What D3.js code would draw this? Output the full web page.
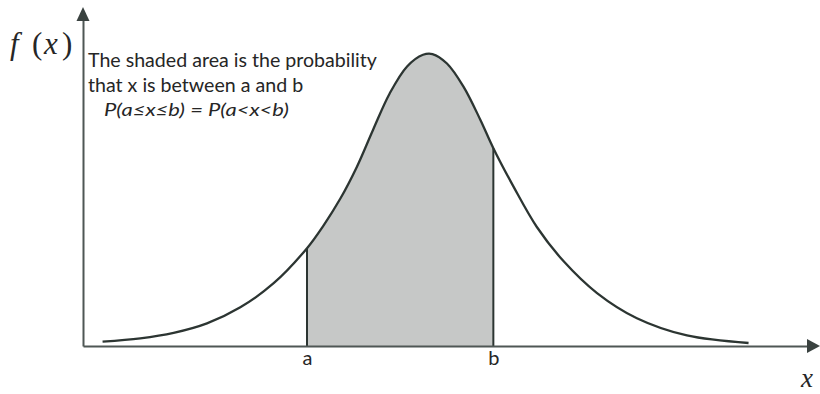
<!DOCTYPE html>
<html>
<head>
<meta charset="utf-8">
<script src="https://cdn.jsdelivr.net/npm/d3@7/dist/d3.min.js"></script>
<style>
  html, body { margin: 0; padding: 0; background: #ffffff; }
  svg { display: block; }
</style>
</head>
<body>
<svg id="chart" width="820" height="394"></svg>
<script>
// Density curve sampled along x (arbitrary units) with its height f(x)
const curveX = [0.27, 0.79, 1.25, 1.71, 2.17, 2.63, 3.09, 3.31, 3.55, 3.78, 4.00, 4.23, 4.47, 4.69, 4.82,
                5.02, 5.25, 5.48, 5.66, 5.94, 6.26, 6.63, 7.09, 7.64, 8.33, 9.18];
const curveY = [0.006, 0.0105, 0.018, 0.031, 0.053, 0.086, 0.134, 0.164, 0.202, 0.246, 0.296, 0.346, 0.383, 0.399, 0.400,
                0.387, 0.355, 0.310, 0.271, 0.218, 0.163, 0.116, 0.0725, 0.038, 0.0144, 0.0041];

// Interval bounds on the x axis
const boundX = [3.09, 5.66];
const tickLabels = ["a", "b"];

// Text drawn on the chart
const noteLines = ["The shaded area is the probability", "that x is between a and b"];
const formula = "P(a\u2264x\u2264b) = P(a<x<b)";

const points = curveX.map((x, i) => ({ x, y: curveY[i] }));
const fAt = v => points[curveX.indexOf(v)].y;

const svg = d3.select("#chart");
const ink = "#2c3532";
const axisInk = "#4f5755";
const textInk = "#262626";

const x = d3.scaleLinear().domain([0, 10]).range([83, 808]);
const y = d3.scaleLinear().domain([0, 0.4466]).range([346, 20]);

// Shaded region between a and b (area under the full curve, clipped)
svg.append("clipPath").attr("id", "ab")
  .append("rect")
  .attr("x", x(boundX[0])).attr("y", 0)
  .attr("width", x(boundX[1]) - x(boundX[0])).attr("height", y(0));

const curve = d3.curveCatmullRom.alpha(0.5);

svg.append("path")
  .datum(points)
  .attr("clip-path", "url(#ab)")
  .attr("fill", "#c6c8c7")
  .attr("d", d3.area().x(d => x(d.x)).y0(y(0)).y1(d => y(d.y)).curve(curve));

// Vertical bounds at a and b
svg.selectAll("line.bound")
  .data(boundX)
  .join("line")
  .attr("class", "bound")
  .attr("x1", d => x(d)).attr("x2", d => x(d))
  .attr("y1", y(0)).attr("y2", d => y(fAt(d)))
  .attr("stroke", ink).attr("stroke-width", 2);

// Density curve
svg.append("path")
  .datum(points)
  .attr("fill", "none")
  .attr("stroke", ink)
  .attr("stroke-width", 2.3)
  .attr("d", d3.line().x(d => x(d.x)).y(d => y(d.y)).curve(curve));

// X axis with a and b labels
const xAxis = svg.append("g")
  .attr("transform", `translate(0,${y(0)})`)
  .call(d3.axisBottom(x).tickValues(boundX).tickFormat((d, i) => tickLabels[i]).tickSize(0).tickSizeOuter(0).tickPadding(5));
xAxis.select(".domain").attr("stroke", axisInk).attr("stroke-width", 2);
xAxis.selectAll("text")
  .attr("font-family", "Lato, 'Open Sans', sans-serif")
  .attr("font-size", 20).attr("fill", textInk);

// Y axis (no ticks)
const yAxis = svg.append("g")
  .attr("transform", `translate(${x(0)},0)`)
  .call(d3.axisLeft(y).tickValues([]).tickSizeOuter(0));
yAxis.select(".domain").attr("stroke", axisInk).attr("stroke-width", 2);

// Arrowheads
const x0 = x(0), yTop = y.range()[1], xEnd = x.range()[1];
svg.append("path")
  .attr("d", `M${x0 - 6.5},${yTop + 1} L${x0},${yTop - 13} L${x0 + 6.5},${yTop + 1} Z`)
  .attr("fill", "#3a4240");
svg.append("path")
  .attr("d", `M${xEnd - 1},${y(0) - 7} L${xEnd + 12},${y(0)} L${xEnd - 1},${y(0) + 7} Z`)
  .attr("fill", "#3a4240");

// Axis titles
const fx = svg.append("text")
  .attr("font-family", "'Liberation Serif', 'DejaVu Serif', serif")
  .attr("font-size", 31).attr("fill", textInk)
  .attr("y", 54);
fx.append("tspan").attr("x", 10).attr("font-style", "italic").text("f");
fx.append("tspan").attr("x", 32).text("(");
fx.append("tspan").attr("x", 44).attr("font-style", "italic").text("x");
fx.append("tspan").attr("x", 62).text(")");

svg.append("text")
  .attr("x", 801).attr("y", 387)
  .attr("font-family", "'Liberation Serif', 'DejaVu Serif', serif")
  .attr("font-style", "italic")
  .attr("font-size", 27).attr("fill", textInk)
  .text("x");

// Explanatory note
svg.selectAll("text.note")
  .data(noteLines)
  .join("text")
  .attr("class", "note")
  .attr("x", 88).attr("y", (d, i) => 67 + i * 25)
  .attr("font-family", "Lato, 'Open Sans', sans-serif")
  .attr("font-size", 19.6).attr("fill", textInk)
  .text(d => d);

svg.append("text")
  .attr("x", 104).attr("y", 116)
  .attr("font-family", "Lato, 'Open Sans', sans-serif")
  .attr("font-style", "italic")
  .attr("font-size", 17.5).attr("fill", textInk)
  .attr("textLength", 185).attr("lengthAdjust", "spacingAndGlyphs")
  .text(formula);
</script>
</body>
</html>
